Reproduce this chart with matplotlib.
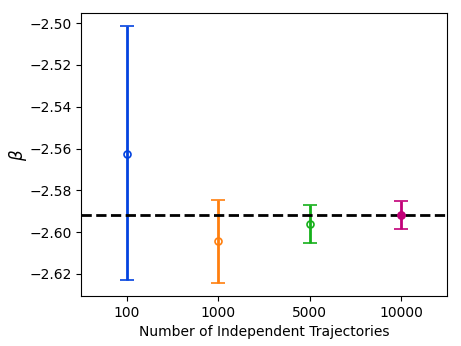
import matplotlib
matplotlib.use('Agg')
import matplotlib.pyplot as plt
import numpy as np

labels = ['100', '1000', '5000', '10000']
beta = [-2.5625, -2.6043, -2.5960, -2.5918]
lower = [-2.6228, -2.6245, -2.6050, -2.5985]
upper = [-2.5013, -2.5845, -2.5870, -2.5853]
colors = ['#0343df', '#ff7f0e', '#15b01a', '#c20078']
beta_ref = -2.5918

fig, ax = plt.subplots(figsize=(4.61, 3.46), dpi=100)
x = np.arange(len(labels))
for i in range(len(labels)):
    err = [[beta[i] - lower[i]], [upper[i] - beta[i]]]
    ax.errorbar(x[i], beta[i], yerr=err, color=colors[i], marker='o',
                markersize=5, mfc='none', mew=1.2, elinewidth=2,
                capsize=5, capthick=2)
ax.errorbar(x[3], beta[3], color=colors[3], marker='o', markersize=5)
ax.axhline(beta_ref, color='black', linestyle='--', linewidth=2)

ax.set_xticks(x)
ax.set_xticklabels(labels)
ax.set_xlim(-0.5, 3.5)
ax.set_ylim(-2.6305, -2.4952)
ax.set_yticks(np.arange(-2.62, -2.499, 0.02))
ax.set_xlabel('Number of Independent Trajectories')
ax.set_ylabel(r'$\beta$', fontsize=12, labelpad=0)
fig.subplots_adjust(left=0.176, right=0.97, top=0.962, bottom=0.145)
fig.savefig('out.png')
